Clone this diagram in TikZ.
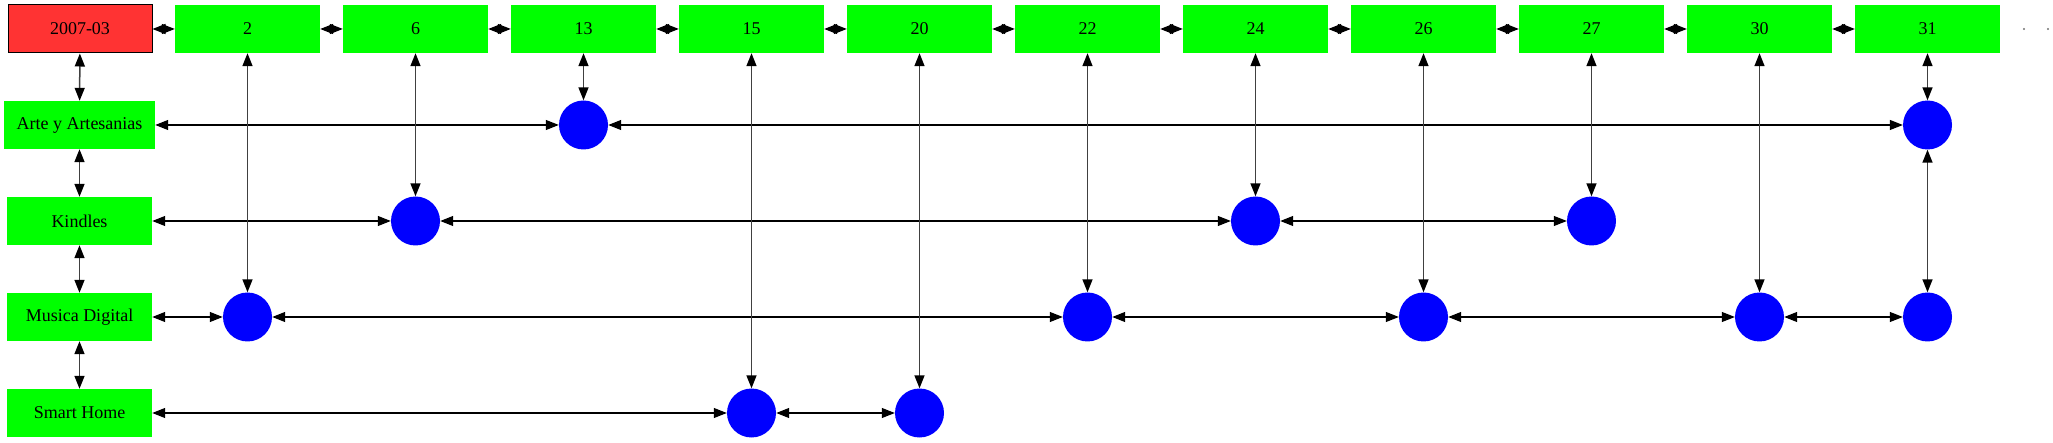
\documentclass[tikz,border=0pt]{standalone}
\usepackage{fontspec}
\setmainfont{Liberation Serif}
\usetikzlibrary{arrows.meta}
\definecolor{gv}{RGB}{0,255,0}
\definecolor{rd}{RGB}{255,51,51}
\definecolor{bl}{RGB}{0,0,255}
\begin{document}
\begin{tikzpicture}[x=1pt,y=-1pt,
  base/.style={font=\fontsize{18}{20}\selectfont, inner sep=0pt, minimum height=48pt},
  hd/.style={base, fill=rd, draw=black, line width=1pt, minimum width=144pt},
  tp/.style={base, fill=gv, minimum width=145pt},
  cat/.style={base, fill=gv, minimum width=145pt},
  dot/.style={circle, fill=bl, minimum size=49pt, inner sep=0pt},
  edge/.style={draw=black, line width=1.2pt, {Triangle[length=13pt,width=10pt,color=black]}-{Triangle[length=13pt,width=10pt,color=black]}},
  vedge/.style={edge, draw=black!75, line width=1.5pt}
]
\useasboundingbox (0,0) rectangle (2053,443);
% top row
\node[hd] (d) at (80,29) {2007-03};
\foreach \l [count=\i from 0] in {2,6,13,15,20,22,24,26,27,30,31}
  \node[tp] (t\l) at ({247.5+168*\i},29) {\l};
% trailing dots
\fill[black!55] (2024,29) circle (1.2);
\fill[black!55] (2048,29) circle (1.2);
% category column
\node[cat, minimum width=151pt] (arte) at (79.5,125) {Arte y Artesanias};
\node[cat] (kin) at (79.5,221) {Kindles};
\node[cat] (mus) at (79.5,317) {Musica Digital};
\node[cat] (sh) at (79.5,413) {Smart Home};
% circles
\node[dot] (a13) at (583.5,125) {};
\node[dot] (a31) at (1927.5,125) {};
\node[dot] (k6) at (415.5,221) {};
\node[dot] (k24) at (1255.5,221) {};
\node[dot] (k27) at (1591.5,221) {};
\node[dot] (m2) at (247.5,317) {};
\node[dot] (m22) at (1087.5,317) {};
\node[dot] (m26) at (1423.5,317) {};
\node[dot] (m30) at (1759.5,317) {};
\node[dot] (m31) at (1927.5,317) {};
\node[dot] (s15) at (751.5,413) {};
\node[dot] (s20) at (919.5,413) {};
% top chain
\draw[edge] (d) -- (t2);
\draw[edge] (t2) -- (t6);
\draw[edge] (t6) -- (t13);
\draw[edge] (t13) -- (t15);
\draw[edge] (t15) -- (t20);
\draw[edge] (t20) -- (t22);
\draw[edge] (t22) -- (t24);
\draw[edge] (t24) -- (t26);
\draw[edge] (t26) -- (t27);
\draw[edge] (t27) -- (t30);
\draw[edge] (t30) -- (t31);
% left column
\draw[vedge] (d) -- (arte);
\draw[vedge] (arte) -- (kin);
\draw[vedge] (kin) -- (mus);
\draw[vedge] (mus) -- (sh);
% rows
\draw[edge] (arte) -- (a13);
\draw[edge] (a13) -- (a31);
\draw[edge] (kin) -- (k6);
\draw[edge] (k6) -- (k24);
\draw[edge] (k24) -- (k27);
\draw[edge] (mus) -- (m2);
\draw[edge] (m2) -- (m22);
\draw[edge] (m22) -- (m26);
\draw[edge] (m26) -- (m30);
\draw[edge] (m30) -- (m31);
\draw[edge] (sh) -- (s15);
\draw[edge] (s15) -- (s20);
% verticals
\draw[vedge] (t2) -- (m2);
\draw[vedge] (t6) -- (k6);
\draw[vedge] (t13) -- (a13);
\draw[vedge] (t15) -- (s15);
\draw[vedge] (t20) -- (s20);
\draw[vedge] (t22) -- (m22);
\draw[vedge] (t24) -- (k24);
\draw[vedge] (t26) -- (m26);
\draw[vedge] (t27) -- (k27);
\draw[vedge] (t30) -- (m30);
\draw[vedge] (t31) -- (a31);
\draw[vedge] (a31) -- (m31);
\end{tikzpicture}
\end{document}
